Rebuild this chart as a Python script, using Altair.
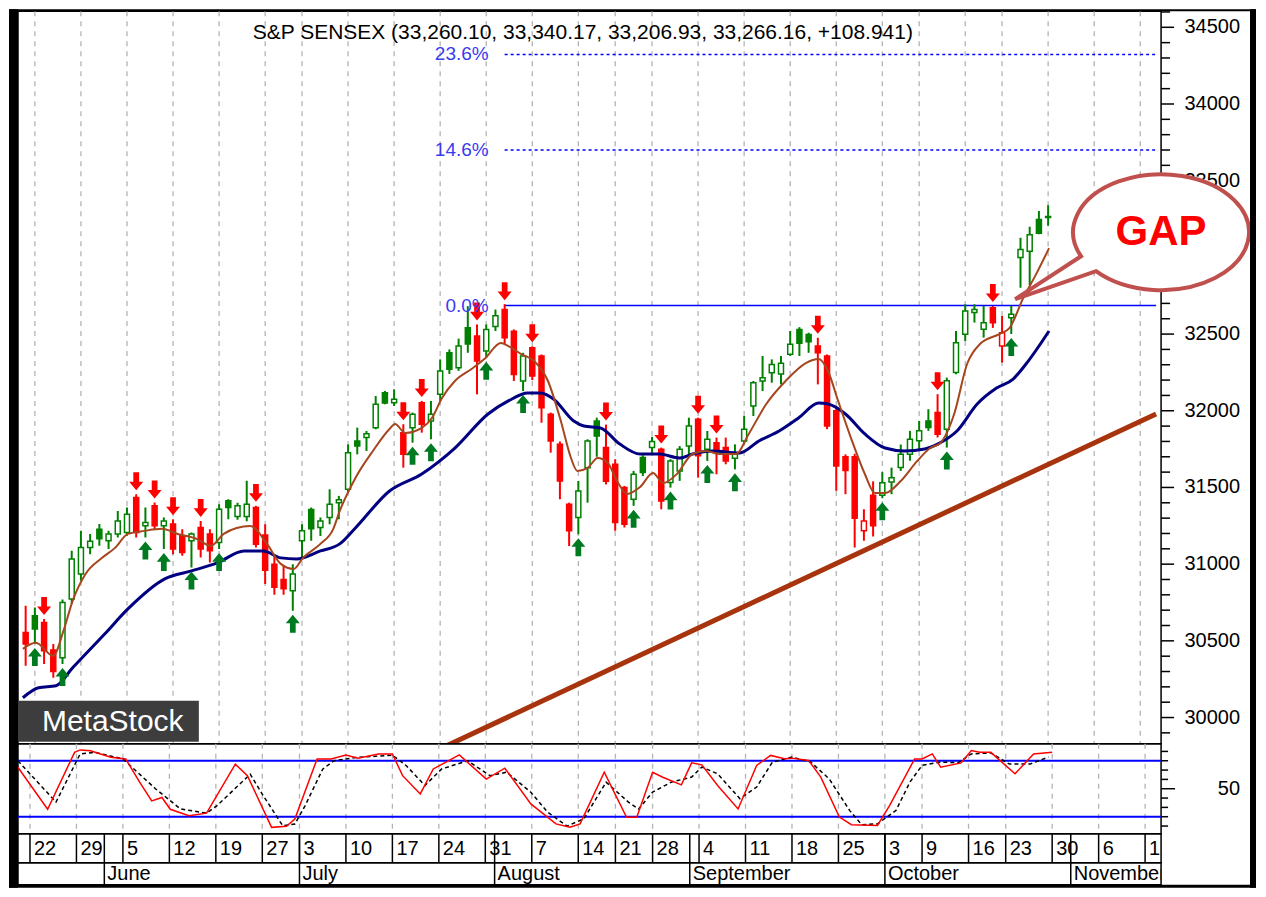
import altair as alt
import pandas as pd

# ---------------- data ----------------
# trading-session index: 0 = Mon 22 May 2017, one step per session
day = list(range(-1, 111))

opens = [30555, 30664, 30620, 30440, 30390, 30772, 30935, 31109, 31228, 31152,
         31196, 31206, 31434, 31250, 31380, 31250, 31261, 31185, 31152, 31239,
         31196, 31141, 31413, 31310, 31310, 31369, 31190, 31000, 30900, 30826,
         31152, 31357, 31239, 31304, 31400, 31488, 31803, 31825, 31890, 32118,
         32053, 31857, 31890, 32053, 31934, 32107, 32378, 32280, 32541, 32487,
         32389, 32550, 32660, 32519, 32194, 32411, 32357, 31977, 31781, 31390,
         31304, 31629, 31933, 31760, 31651, 31499, 31423, 31695, 31760, 31749,
         31532, 31608, 31770, 31944, 31749, 31792, 31760, 31690, 31803, 32031,
         32194, 32248, 32240, 32368, 32530, 32498, 32422, 32357, 32000, 31700,
         31700, 31217, 31450, 31450, 31535, 31630, 31717, 31804, 31934, 31988,
         31880, 32249, 32499, 32640, 32531, 32672, 32423, 32607, 33000, 33040,
         33247, 33260.10]
highs = [30729, 30718, 30642, 30480, 30770, 31087, 31217, 31196, 31261, 31217,
         31347, 31369, 31456, 31369, 31402, 31304, 31293, 31228, 31206, 31282,
         31228, 31391, 31423, 31400, 31543, 31380, 31260, 31050, 30990, 31000,
         31260, 31369, 31304, 31488, 31445, 31781, 31890, 31868, 32096, 32129,
         32140, 31912, 31988, 32064, 32064, 32335, 32400, 32470, 32682, 32563,
         32563, 32660, 32695, 32530, 32378, 32420, 32367, 31988, 31800, 31401,
         31542, 31814, 31955, 31910, 31684, 31510, 31608, 31710, 31830, 31760,
         31684, 31770, 31955, 31955, 31868, 31825, 31825, 31781, 31966, 32194,
         32357, 32335, 32357, 32520, 32545, 32509, 32476, 32367, 32020, 31716,
         31720, 31358, 31540, 31600, 31629, 31780, 31869, 31934, 32010, 32108,
         32216, 32520, 32694, 32694, 32683, 32683, 32618, 32683, 33128, 33200,
         33302, 33340.17]
lows = [30338, 30479, 30349, 30260, 30349, 30740, 30892, 31065, 31120, 31098,
        31174, 31185, 31174, 31174, 31228, 31098, 31065, 31054, 30978, 31044,
        31011, 31098, 31293, 31290, 31280, 31108, 30870, 30800, 30800, 30696,
        31043, 31152, 31184, 31260, 31293, 31467, 31716, 31738, 31879, 32042,
        32031, 31629, 31792, 31857, 31814, 32063, 32240, 32260, 32378, 32107,
        32345, 32520, 32433, 32194, 32129, 32200, 31922, 31727, 31423, 31119,
        31195, 31401, 31700, 31520, 31217, 31239, 31380, 31575, 31716, 31358,
        31499, 31543, 31716, 31564, 31673, 31586, 31651, 31618, 31781, 31966,
        32129, 32183, 32172, 32357, 32357, 32378, 32172, 31880, 31478, 31456,
        31108, 31152, 31180, 31430, 31456, 31608, 31674, 31739, 31869, 31826,
        31760, 32238, 32455, 32575, 32477, 32540, 32314, 32500, 32802, 32820,
        33150, 33206.93]
closes = [30479, 30577, 30436, 30300, 30750, 31033, 31109, 31150, 31165, 31196,
          31282, 31326, 31206, 31271, 31250, 31282, 31098, 31076, 31196, 31098,
          31087, 31358, 31370, 31380, 31390, 31130, 30960, 30850, 30840, 30935,
          31217, 31230, 31282, 31391, 31420, 31727, 31770, 31850, 32042, 32050,
          32075, 31716, 31977, 31912, 31977, 32259, 32270, 32422, 32436, 32324,
          32530, 32620, 32476, 32237, 32357, 32226, 32020, 31803, 31542, 31217,
          31477, 31803, 31835, 31540, 31271, 31260, 31586, 31597, 31800, 31412,
          31673, 31749, 31901, 31706, 31814, 31749, 31673, 31720, 31879, 32183,
          32215, 32302, 32310, 32433, 32440, 32450, 32378, 31900, 31640, 31610,
          31300, 31282, 31250, 31530, 31564, 31716, 31814, 31869, 31891, 31847,
          32195, 32444, 32650, 32661, 32574, 32574, 32509, 32629, 33052, 33147,
          33157, 33266.16]
# g = hollow green, G = solid green, r = hollow red, R = solid red
candle_style = ["R", "G", "R", "R", "g", "g", "g", "g", "G", "g",
                "g", "g", "R", "g", "R", "g", "R", "R", "g", "R",
                "R", "g", "G", "g", "g", "R", "R", "R", "R", "g",
                "g", "G", "g", "g", "g", "g", "G", "g", "g", "G",
                "g", "R", "g", "R", "g", "g", "G", "g", "G", "R",
                "g", "g", "R", "R", "g", "R", "R", "R", "R", "R",
                "g", "g", "G", "R", "R", "R", "g", "G", "g", "R",
                "g", "g", "g", "R", "g", "R", "R", "g", "g", "g",
                "g", "g", "g", "g", "G", "G", "R", "R", "R", "R",
                "R", "r", "R", "g", "g", "g", "g", "g", "G", "R",
                "g", "g", "g", "g", "g", "R", "r", "g", "g", "g",
                "G", "g"]

brown_x = [-1.3, 0.1, 2.0, 3.1, 4.1, 5.5, 7.3, 8.7, 10.1, 11.9, 13.8, 15.5, 17.6, 19.1,
           20.5, 21.9, 23.4, 25.2, 26.7, 28.1, 29.1, 31.0, 32.4, 33.1, 34.8, 36.7, 38.5,
           39.1, 40.2, 42.0, 43.1, 44.2, 45.6, 47.4, 48.8, 50.6, 51.4, 52.8, 54.2, 55.7,
           57.1, 58.2, 58.9, 60.0, 61.1, 62.2, 63.2, 64.3, 65.7, 67.1, 68.2, 69.7, 71.4,
           72.9, 74.3, 76.1, 77.5, 79.4, 81.5, 83.7, 85.1, 86.1, 87.2, 88.6, 90.1, 91.2,
           92.3, 94.0, 95.8, 97.2, 98.3, 99.8, 101.2, 102.6, 104.7, 105.8, 107.3, 108.7, 110.1]
brown_v = [30448, 30487, 30402, 30565, 30761, 30936, 31041, 31106, 31197, 31217, 31230,
           31197, 31164, 31119, 31197, 31236, 31249, 31132, 31002, 30969, 31041, 31132,
           31230, 31347, 31562, 31738, 31881, 31914, 31855, 31888, 31953, 32083, 32194,
           32272, 32337, 32441, 32422, 32370, 32324, 32194, 31933, 31692, 31607, 31627,
           31692, 31660, 31542, 31458, 31503, 31594, 31529, 31588, 31718, 31738, 31718,
           31718, 31849, 32044, 32194, 32311, 32337, 32259, 32064, 31822, 31588, 31464,
           31464, 31542, 31673, 31757, 31790, 31979, 32305, 32435, 32500, 32539, 32735,
           32891, 33060]
navy_x = [-1.3, 0.4, 2.3, 4.1, 7.6, 10.1, 14.1, 17.0, 19.8, 22.7, 24.8, 26.7, 28.4, 31.0,
          33.1, 34.8, 38.5, 42.0, 45.6, 49.2, 51.4, 53.5, 54.9, 56.3, 58.5, 59.6, 61.4,
          63.5, 65.7, 67.8, 70.0, 71.4, 73.5, 76.5, 78.6, 80.8, 82.9, 85.1, 86.1, 88.0,
          90.1, 92.3, 94.4, 96.6, 98.0, 100.1, 102.3, 104.4, 106.2, 107.6, 110.1]
navy_v = [30129, 30194, 30207, 30324, 30546, 30708, 30904, 30956, 31008, 31086, 31086,
          31041, 31034, 31086, 31132, 31236, 31477, 31588, 31757, 31979, 32064, 32116,
          32116, 32077, 31933, 31901, 31888, 31783, 31718, 31718, 31692, 31718, 31738,
          31725, 31803, 31868, 31953, 32050, 32044, 31979, 31849, 31757, 31738, 31751,
          31783, 31868, 32044, 32148, 32207, 32305, 32520]

k_x = [-1.3, 1.9, 4.8, 5.4, 6.5, 8.7, 10.3, 11.8, 13.1, 14.2, 15.1, 17.1, 19.0, 22.1, 23.4,
       26.0, 27.6, 28.5, 30.9, 32.4, 34.0, 35.3, 37.5, 39.0, 40.1, 42.0, 43.4, 46.2, 49.1,
       51.1, 53.9, 56.6, 58.1, 59.2, 61.8, 64.2, 65.3, 67.0, 68.1, 70.1, 71.2, 72.3, 74.0,
       76.2, 78.2, 79.7, 81.2, 82.0, 83.8, 85.1, 87.1, 88.4, 91.2, 92.5, 95.2, 96.0, 97.1,
       98.0, 100.2, 101.3, 102.2, 103.4, 106.0, 108.0, 110.0]
k_v = [73, 28, 89, 91.6, 90.8, 83.7, 81.9, 57, 37, 40.6, 28, 21, 23.8, 76.4, 64,
       8.6, 9.7, 17.6, 82, 82, 86, 82.6, 87.3, 87.3, 64, 44.4, 71.2, 86.2, 60.4,
       72, 33.7, 12.3, 8.7, 12.3, 67.7, 19.4, 19.4, 67.7, 62.3, 54.1, 77.7, 75.6, 53.4,
       28.3, 75, 85.7, 82.1, 82.8, 80.3, 62.5, 19.6, 11.4, 10.7, 32, 82, 82, 87.3,
       73, 77.7, 90.9, 89, 89, 66, 87.3, 89]
d_x = [-1.3, 2.8, 5.4, 7.0, 10.0, 13.5, 16.2, 19.0, 20.1, 23.7, 25.0, 27.2, 28.5, 29.6, 31.5,
       32.7, 35.0, 39.0, 40.5, 42.5, 44.3, 47.1, 49.5, 51.3, 53.9, 55.7, 57.8, 59.6, 62.0,
       64.4, 65.5, 67.0, 69.0, 71.2, 72.3, 74.0, 76.4, 78.2, 79.9, 82.0, 84.0, 86.0, 88.2,
       89.5, 91.2, 93.2, 94.7, 96.0, 98.0, 99.9, 101.3, 103.4, 105.4, 107.6, 109.6]
d_v = [80, 35.7, 87.3, 89, 82, 50, 28.3, 23.8, 31.6, 65.6, 44.2, 10.3, 12.1, 31.7, 71,
       80, 83.4, 86, 74.7, 53.4, 71.2, 80, 64, 67.7, 46.2, 24.9, 9.9, 17.8, 57,
       35.7, 28.3, 46.3, 57, 62.5, 73.2, 66, 39.3, 51.8, 78.6, 84, 78.6, 60.7, 26.8,
       11.4, 12.3, 26.8, 57.2, 75, 78.6, 77.9, 87.3, 88.4, 76.4, 76.4, 84]

trend_x = [44.7, 121.72]
trend_v = [29816, 31979]
fib_levels = [32686, 33700, 34323]
fib_labels = ["0.0%", "14.6%", "23.6%"]
fib_dotted = [0, 1, 1]
fib_start = 51
down_arrow_days = [1, 11, 13, 15, 18, 24, 40, 42, 48, 51, 54, 62, 68, 72, 74, 85, 98, 104]
up_arrow_days = [0, 3, 12, 14, 17, 20, 28, 41, 43, 49, 53, 59, 65, 69, 73, 76, 92, 99, 106]
week_days = [0, 5, 10, 15, 20, 25, 29, 34, 39, 44, 49, 54, 59, 63, 67, 72, 77, 82, 87, 92,
             96, 101, 105, 110, 115, 120]
week_labels = ["22", "29", "5", "12", "19", "27", "3", "10", "17", "24", "31", "7", "14",
               "21", "28", "4", "11", "18", "25", "3", "9", "16", "23", "30", "6", "13"]
month_days = [8, 29, 50, 71, 92, 112]
month_labels = ["June", "July", "August", "September", "October", "November"]
price_ticks = list(range(30000, 34501, 500))
# 33000 sits fully under the GAP call-out in the reference, so it is not printed
price_labels = [v for v in price_ticks if v != 33000]
stoch_ticks = [10, 20, 30, 40, 50, 60, 70, 80, 90]
stoch_labelled = [50]
stoch_levels = [20, 80]
gap_day, gap_value = 122.26, 33164
title_text = "S&P SENSEX (33,260.10, 33,340.17, 33,206.93, 33,266.16, +108.941)"

# ---------------- layout / styles ----------------
W = 1144
H_MAIN, H_STO, H_WK, H_MO = 733, 90, 29, 22
H_ALL = H_MAIN + H_STO + H_WK + H_MO
X_DOM = [-1.29, 121.72]
GREEN, RED, BLUE = "#008000", "#ff0000", "#0000ff"
FONT = "Liberation Sans"

XS = alt.Scale(domain=X_DOM, nice=False, zero=False)
YM = alt.Scale(domain=[29829, 34604], nice=False, zero=False)
YK = alt.Scale(domain=[1.8, 98.2], nice=False, zero=False)


def xq(f):
    return alt.X(f + ":Q", scale=XS, axis=None)


def ym(f):
    return alt.Y(f + ":Q", scale=YM, axis=None)


def yk(f):
    return alt.Y(f + ":Q", scale=YK, axis=None)


one = pd.DataFrame({"k": [0]})

cd = pd.DataFrame(dict(day=day, open=opens, high=highs, low=lows, close=closes,
                       style=candle_style))
cd["col"] = [GREEN if s in "gG" else RED for s in cd["style"]]
cd["fill"] = ["white" if s in "gr" else c for s, c in zip(cd["style"], cd["col"])]

DOWN = "M -0.32 -1 L 0.32 -1 L 0.32 0.05 L 0.78 0.05 L 0 1 L -0.78 0.05 L -0.32 0.05 Z"
UP = "M -0.32 1 L 0.32 1 L 0.32 -0.05 L 0.78 -0.05 L 0 -1 L -0.78 -0.05 L -0.32 -0.05 Z"
BUBBLE = "M -0.910 0.273 L -1.659 0.761 L -0.740 0.443 A 1 0.659 0 1 0 -0.910 0.273 Z"

grid_df = pd.DataFrame({"day": week_days})


def vgrid():
    return alt.Chart(grid_df).mark_rule(color="#b4b4b4", strokeWidth=1.3,
                                        strokeDash=[5, 5]).encode(x=xq("day"))


def ticks(values, yenc, length):
    return alt.Chart(pd.DataFrame({"v": values})).mark_rule(
        color="black", strokeWidth=1.5).encode(
        x=alt.value(W), x2=alt.value(W + length), y=yenc("v"))


def tick_labels(values, yenc):
    return alt.Chart(pd.DataFrame({"v": values, "t": [str(v) for v in values]})).mark_text(
        align="right", baseline="middle", fontSize=20, color="black", font=FONT).encode(
        x=alt.value(W + 79), y=yenc("v"), text="t:N")


# ---------------- main price panel ----------------
fib_df = pd.DataFrame({"level": fib_levels, "label": fib_labels, "dotted": fib_dotted,
                       "x0": fib_start, "x1": X_DOM[1]})
fib_solid = alt.Chart(fib_df[fib_df.dotted == 0]).mark_rule(color=BLUE, strokeWidth=1.5).encode(
    x=xq("x0"), x2="x1", y=ym("level"))
fib_dot = alt.Chart(fib_df[fib_df.dotted == 1]).mark_rule(
    color=BLUE, strokeWidth=1.5, strokeDash=[3, 3]).encode(x=xq("x0"), x2="x1", y=ym("level"))
fib_text = alt.Chart(fib_df).mark_text(align="right", baseline="middle", dx=-16, fontSize=19,
                                       color="#3a3af2", font=FONT).encode(
    x=xq("x0"), y=ym("level"), text="label:N")

trend = alt.Chart(pd.DataFrame({"x": trend_x, "v": trend_v})).mark_line(
    color="#a8340e", strokeWidth=5, clip=True).encode(x=xq("x"), y=ym("v"))

wick = alt.Chart(cd).mark_rule(strokeWidth=2, clip=True).encode(
    x=xq("day"), y=ym("low"), y2="high", color=alt.Color("col:N", scale=None))
body = alt.Chart(cd).mark_bar(size=5, strokeWidth=1.5, clip=True).encode(
    x=xq("day"), y=ym("open"), y2="close",
    fill=alt.Fill("fill:N", scale=None), stroke=alt.Stroke("col:N", scale=None))

navy = alt.Chart(pd.DataFrame({"x": navy_x, "v": navy_v})).mark_line(
    color="#000080", strokeWidth=3, interpolate="monotone", clip=True).encode(
    x=xq("x"), y=ym("v"))
brown = alt.Chart(pd.DataFrame({"x": brown_x, "v": brown_v})).mark_line(
    color="#a5461e", strokeWidth=2, interpolate="monotone", clip=True).encode(
    x=xq("x"), y=ym("v"))

dn = alt.Chart(cd[cd.day.isin(down_arrow_days)]).mark_point(
    shape=DOWN, size=324, filled=True, color=RED, opacity=1, yOffset=-13).encode(
    x=xq("day"), y=ym("high"))
up = alt.Chart(cd[cd.day.isin(up_arrow_days)]).mark_point(
    shape=UP, size=324, filled=True, color="#007a20", opacity=1, yOffset=13).encode(
    x=xq("day"), y=ym("low"))

title = alt.Chart(pd.DataFrame({"t": [title_text]})).mark_text(
    align="left", baseline="middle", fontSize=21, color="black", font=FONT).encode(
    x=alt.value(235), y=alt.value(22), text="t:N")

logo_box = alt.Chart(one).mark_rect(color="#3d3d3d").encode(
    x=alt.value(0), x2=alt.value(181), y=alt.value(690), y2=alt.value(731))
logo_txt = alt.Chart(pd.DataFrame({"t": ["MetaStock"]})).mark_text(
    align="left", baseline="middle", fontSize=30, color="white", font=FONT).encode(
    x=alt.value(24), y=alt.value(711), text="t:N")

minor_main = [v for v in range(29900, 34601, 100) if v % 500]

gap_df = pd.DataFrame({"x": [gap_day], "v": [gap_value], "t": ["GAP"]})
bubble = alt.Chart(gap_df).mark_point(
    shape=BUBBLE, size=176 * 176, filled=True, fill="white", stroke="#c0504d",
    strokeWidth=4, opacity=1, fillOpacity=1, strokeOpacity=1).encode(x=xq("x"), y=ym("v"))
gap_txt = alt.Chart(gap_df).mark_text(
    fontSize=42, fontWeight="bold", color=RED, align="center", baseline="middle",
    font=FONT).encode(x=xq("x"), y=ym("v"), text="t:N")


def frame(x0, x1, y0, y1):
    return alt.Chart(one).mark_rect(color="black").encode(
        x=alt.value(x0), x2=alt.value(x1), y=alt.value(y0), y2=alt.value(y1))


frames = [frame(-9, 0, -2, H_ALL + 3), frame(-9, 1239, -2, 0),
          frame(1233, 1239, -2, H_ALL + 3), frame(-9, 1239, H_ALL, H_ALL + 3)]

main = alt.layer(vgrid(), fib_solid, fib_dot, trend, wick, body, navy, brown, dn, up,
                 fib_text, title, logo_box, logo_txt,
                 ticks(minor_main, ym, 9), ticks(price_ticks, ym, 13),
                 tick_labels(price_labels, ym),
                 bubble, gap_txt, *frames).properties(width=W, height=H_MAIN)

# ---------------- stochastic panel ----------------
slev = alt.Chart(pd.DataFrame({"v": stoch_levels})).mark_rule(
    color=BLUE, strokeWidth=2).encode(y=yk("v"))
sd = alt.Chart(pd.DataFrame({"x": d_x, "v": d_v})).mark_line(
    color="black", strokeWidth=1.5, strokeDash=[4, 3]).encode(x=xq("x"), y=yk("v"))
sk = alt.Chart(pd.DataFrame({"x": k_x, "v": k_v})).mark_line(
    color=RED, strokeWidth=1.5).encode(x=xq("x"), y=yk("v"))
stoch = alt.layer(vgrid(), slev, sd, sk,
                  ticks([t for t in stoch_ticks if t not in stoch_labelled], yk, 7),
                  ticks(stoch_labelled, yk, 14),
                  tick_labels(stoch_labelled, yk)).properties(width=W, height=H_STO)

# ---------------- date rows ----------------
wsep = alt.Chart(pd.DataFrame({"day": week_days + month_days})).mark_rule(
    color="black", strokeWidth=1.5).encode(x=xq("day"))
wtxt = alt.Chart(pd.DataFrame({"day": week_days, "label": week_labels})).mark_text(
    align="left", baseline="middle", dx=4, fontSize=20, clip=True, color="black",
    font=FONT).encode(x=xq("day"), y=alt.value(15), text="label:N")
weeks = alt.layer(wsep, wtxt).properties(width=W, height=H_WK)

msep = alt.Chart(pd.DataFrame({"day": month_days})).mark_rule(
    color="black", strokeWidth=1.5).encode(x=xq("day"))
mtxt = alt.Chart(pd.DataFrame({"day": month_days, "label": month_labels})).mark_text(
    align="left", baseline="middle", dx=3, fontSize=20, clip=True, color="black",
    font=FONT).encode(x=xq("day"), y=alt.value(11), text="label:N")
months = alt.layer(msep, mtxt).properties(width=W, height=H_MO)

chart = alt.vconcat(main, stoch, weeks, months, spacing=0, bounds="flush").resolve_scale(
    x="independent", y="independent").properties(padding=0, background="white").configure(
    font=FONT).configure_view(stroke="black", strokeWidth=1.5)

chart.save("out.html", embed_options={"renderer": "svg", "actions": False})
